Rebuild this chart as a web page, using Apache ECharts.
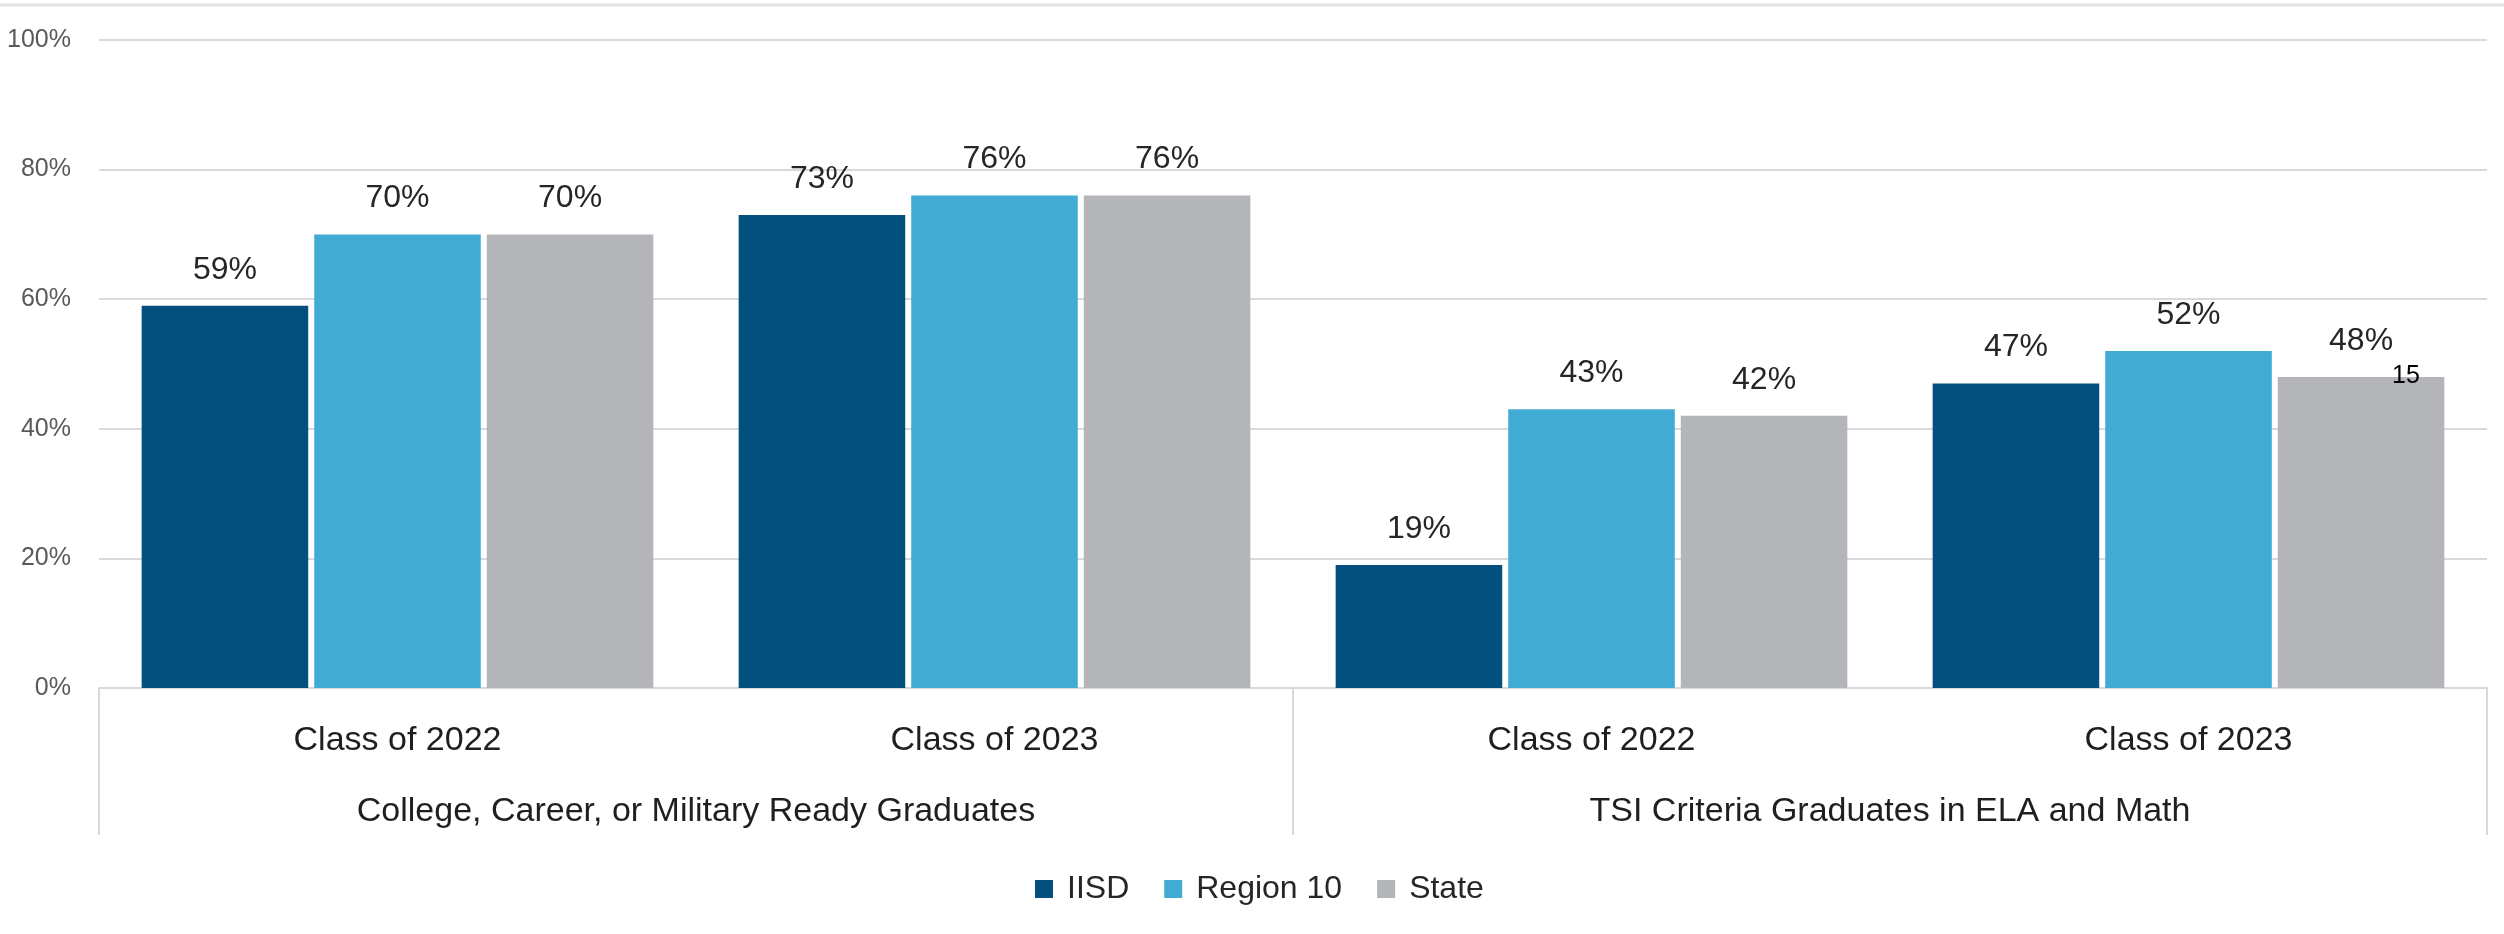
<!DOCTYPE html>
<html>
<head>
<meta charset="utf-8">
<title>Graduates</title>
<script src="https://cdn.jsdelivr.net/npm/echarts@6/dist/echarts.min.js"></script>
<style>
  html, body { margin: 0; padding: 0; background: #fff; }
  #chart { width: 2504px; height: 934px; }
</style>
</head>
<body>
<div id="chart"></div>
<script>
// categories on the x axis (two groups of two years)
const classes = ['Class of 2022', 'Class of 2023', 'Class of 2022', 'Class of 2023']
const groups = ['College, Career, or Military Ready Graduates', 'TSI Criteria Graduates in ELA and Math']
const seriesNames = ['IISD', 'Region 10', 'State']

// values in percent
const iisd = [59, 73, 19, 47]
const region10 = [70, 76, 43, 52]
const state = [70, 76, 42, 48]

const yTicks = [0, 20, 40, 60, 80, 100]

const colors = ['#034f7d', '#41abd3', '#b4b5b8']
const font = 'Liberation Sans, Arial, sans-serif'

const chart = echarts.init(document.getElementById('chart'))

function barSeries(name, data, color) {
  return {
    name: name,
    type: 'bar',
    xAxisIndex: 0,
    barWidth: '27.9%',
    barGap: '3.6%',
    itemStyle: { color: color },
    label: {
      show: true,
      position: 'top',
      distance: 20,
      formatter: '{c}%',
      fontFamily: font,
      fontSize: 32,
      color: '#262626'
    },
    data: data
  }
}

chart.setOption({
  animation: false,
  grid: {
    left: 99,
    right: 17,
    top: 40,
    bottom: 246
  },
  legend: {
    data: seriesNames,
    left: 1030,
    top: 868,
    icon: 'rect',
    itemWidth: 18,
    itemHeight: 18,
    itemGap: 35,
    textStyle: {
      fontFamily: font,
      fontSize: 32,
      color: '#262626',
      padding: [0, 0, 0, 9]
    }
  },
  xAxis: [
    {
      type: 'category',
      data: classes,
      position: 'bottom',
      axisLine: { lineStyle: { color: '#d9d9d9', width: 2 } },
      axisTick: { show: false },
      axisLabel: {
        margin: 36,
        fontFamily: font,
        fontSize: 34,
        color: '#1f1f1f'
      }
    },
    {
      type: 'category',
      data: groups,
      position: 'bottom',
      axisLine: { show: false },
      axisTick: {
        show: true,
        length: 147,
        lineStyle: { color: '#d9d9d9', width: 2 }
      },
      axisLabel: {
        margin: 107,
        fontFamily: font,
        fontSize: 34,
        color: '#1f1f1f'
      }
    }
  ],
  yAxis: {
    type: 'value',
    min: yTicks[0],
    max: yTicks[yTicks.length - 1],
    interval: 20,
    axisLine: { show: false },
    axisTick: { show: false },
    splitLine: { lineStyle: { color: '#d9d9d9', width: 2 } },
    axisLabel: {
      formatter: '{value}%',
      margin: 28,
      fontFamily: font,
      fontSize: 25,
      color: '#595959'
    }
  },
  graphic: [
    // thin border line along the top of the slide
    {
      type: 'line',
      z: 100,
      shape: { x1: 0, y1: 5, x2: 2504, y2: 5 },
      style: { stroke: '#e3e3e3', lineWidth: 3 }
    },
    // slide page number, drawn over the last bar
    {
      type: 'text',
      z: 100,
      x: 2392,
      y: 364,
      style: { text: '15', fontFamily: font, fontSize: 25, fill: '#000' }
    }
  ],
  series: [
    barSeries(seriesNames[0], iisd, colors[0]),
    barSeries(seriesNames[1], region10, colors[1]),
    barSeries(seriesNames[2], state, colors[2])
  ]
})
</script>
</body>
</html>
